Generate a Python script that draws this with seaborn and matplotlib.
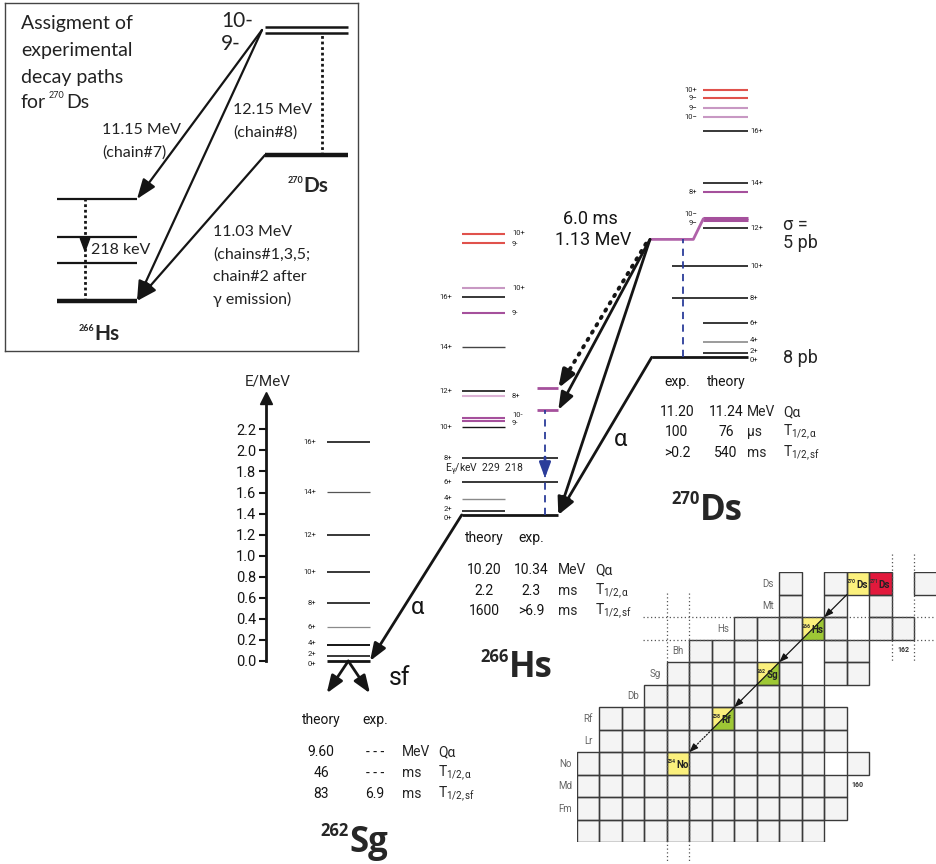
import numpy as np
import pandas as pd
import matplotlib.pyplot as plt
import seaborn as sns
from matplotlib.colors import ListedColormap
from matplotlib.patches import Rectangle, Polygon

sns.set_style('white')
plt.rcParams['font.family'] = ['Roboto', 'DejaVu Sans']
plt.rcParams['mathtext.fontset'] = 'custom'
plt.rcParams['mathtext.rm'] = 'Roboto'
plt.rcParams['mathtext.it'] = 'Roboto:italic'
plt.rcParams['mathtext.bf'] = 'Roboto:bold'

# ---------------- data (MeV) ----------------
band_spins = ['0+', '2+', '4+', '6+', '8+', '10+', '12+', '14+', '16+']
sg_energy = [0.0, 0.047, 0.155, 0.320, 0.554, 0.842, 1.197, 1.608, 2.083]
hs_energy = [0.0, 0.038, 0.149, 0.311, 0.544, 0.833, 1.180, 1.598, 2.067]
ds_energy = [0.0, 0.038, 0.148, 0.323, 0.560, 0.867, 1.231, 1.658, 2.152]

hs_k_spins = ['9-', '10-', '8+', '9-', '10+', '9-', '10+']
hs_k_energy = [0.890, 0.924, 1.130, 1.915, 2.159, 2.586, 2.666]
hs_exp_energy = [0.997, 1.203]

ds_k_spins = ['9-', '10-', '8+', '10-', '9-', '9-', '10+']
ds_k_energy = [1.304, 1.326, 1.573, 2.279, 2.370, 2.460, 2.538]
ds_isomer = 1.12

sg_table = [['9.60', '- - -', 'MeV', 'Qα'],
            ['46', '- - -', 'ms', r'$\mathregular{T_{1/2,α}}$'],
            ['83', '6.9', 'ms', r'$\mathregular{T_{1/2,sf}}$']]
hs_table = [['10.20', '10.34', 'MeV', 'Qα'],
            ['2.2', '2.3', 'ms', r'$\mathregular{T_{1/2,α}}$'],
            ['1600', '>6.9', 'ms', r'$\mathregular{T_{1/2,sf}}$']]
ds_table = [['11.20', '11.24', 'MeV', 'Qα'],
            ['100', '76', 'μs', r'$\mathregular{T_{1/2,α}}$'],
            ['>0.2', '540', 'ms', r'$\mathregular{T_{1/2,sf}}$']]

# inset (schematic units)
inset_hs = [0.0, 0.38, 0.64, 1.02]
inset_ds = [1.46, 2.68, 2.74]

# chart of nuclides: existing cells per Z
chart_cells = {
    110: [157, 159, 160, 161, 163],
    109: [157, 159, 161],
    108: [155, 156, 157, 158, 159, 161, 162],
    107: [153, 154, 155, 157, 159, 160],
    106: [152, 153, 154, 155, 156, 157, 159, 160],
    105: list(range(151, 159)),
    104: list(range(149, 160)),
    103: list(range(149, 160)),
    102: list(range(148, 159)) + [160],
    101: list(range(148, 160)),
    100: list(range(148, 160)),
    99: list(range(148, 159)),
}
element = {110: 'Ds', 109: 'Mt', 108: 'Hs', 107: 'Bh', 106: 'Sg', 105: 'Db',
           104: 'Rf', 103: 'Lr', 102: 'No', 101: 'Md', 100: 'Fm'}
chain_Z = [110, 110, 108, 106, 104, 102]
chain_A = [270, 271, 266, 262, 258, 254]
chain_kind = [1, 2, 1, 1, 1, 1]          # 1 yellow, 2 red
split_Z = [108, 106, 104]                # alpha+sf split cells

# ---------------- layout ----------------
W, H = 937, 864
PX_PER_MEV = 105.3
SG0_PX = 661
HS0, DS0 = 1.387, 2.884                  # drawing offsets of ground states
BLACK, GRAY = '#151515', '#8a8a8a'
PURPLE, LPURPLE, PINK, RED = '#a5509c', '#c898c3', '#dcb2d4', '#e0524c'
BLUE = '#2b3d9a'

fig = plt.figure(figsize=(W / 100, H / 100), dpi=100)
ax_px = fig.add_axes([0, 0, 1, 1])
ax_px.set_xlim(0, W)
ax_px.set_ylim(H, 0)
ax_px.axis('off')

ax = fig.add_axes([0, 0, 1, 1])
ax.set_xlim(0, W)
ax.set_ylim((SG0_PX - H) / PX_PER_MEV, SG0_PX / PX_PER_MEV)
ax.axis('off')


def arrow(a, start, end, lw=1.6, color=BLACK, ls='-', scale=14):
    a.annotate('', xy=end, xytext=start,
               arrowprops=dict(arrowstyle='-|>,head_length=0.75,head_width=0.28',
                               lw=lw, color=color, linestyle=ls, shrinkA=0,
                               shrinkB=0, mutation_scale=scale))


def dotted_arrow(a, start, end, lw=1.6, dots=(0, (1, 2)), scale=14, frac=0.9):
    # dotted shaft, solid head
    mid = (start[0] + frac * (end[0] - start[0]), start[1] + frac * (end[1] - start[1]))
    a.plot([start[0], mid[0]], [start[1], mid[1]], color=BLACK, lw=lw, ls=dots,
           dash_capstyle='round', clip_on=False)
    arrow(a, mid, end, lw=lw, scale=scale)


def label(x, e, s, ha, color='#222', dy=0.0):
    # dy: shift in pixels, positive = downwards
    ax.text(x, e - dy / PX_PER_MEV, s, ha=ha, va='center', fontsize=5.5, color=color)


# energy axis
ax_e = fig.add_axes([266 / W, (H - SG0_PX) / H, 0.004, 2.5 * PX_PER_MEV / H])
ax_e.set_ylim(0, 2.5)
ax_e.set_facecolor('none')
for s in ['top', 'right', 'bottom']:
    ax_e.spines[s].set_visible(False)
ax_e.spines['left'].set_linewidth(2)
ax_e.spines['left'].set_color(BLACK)
ax_e.set_xticks([])
ax_e.set_yticks(np.arange(0, 2.21, 0.2))
ax_e.set_yticklabels([f'{v:.1f}' for v in np.arange(0, 2.21, 0.2)])
ax_e.tick_params(axis='y', left=True, direction='out', length=5, width=1.5,
                 labelsize=10.5, pad=2, colors=BLACK)
ax_e.plot(0, 1, marker='^', ms=8, color=BLACK, transform=ax_e.transAxes, clip_on=False)
ax_px.text(268, 381, 'E/MeV', ha='center', va='center', fontsize=11)

band_dy = [3, -2, -1.5, 0, 0, 0, 0, 0, 0]

# ---- 262Sg ----
sg_lw = [2.0, 1.2, 1.4, 0.9, 1.2, 1.2, 1.2, 0.9, 1.2]
sg_col = [BLACK, BLACK, BLACK, GRAY, BLACK, BLACK, BLACK, '#555', BLACK]
ax.hlines(sg_energy, 326.7, 370, colors=sg_col, lw=sg_lw)
for s, e, d in zip(band_spins, sg_energy, band_dy):
    label(316, e, s, 'right', dy=d)

# ---- 266Hs ----
hs_x1 = [558.3, 505, 505, 558.3, 558.3, 505, 505, 505, 505]
hs_lw = [2.0, 1.2, 1.0, 1.2, 1.2, 1.0, 1.2, 1.0, 1.2]
hs_col = [BLACK, BLACK, GRAY, BLACK, BLACK, BLACK, BLACK, '#444', BLACK]
hs_e = HS0 + np.array(hs_energy)
ax.hlines(hs_e, 461.7, hs_x1, colors=hs_col, lw=hs_lw)
for s, e, d in zip(band_spins, hs_e, band_dy):
    label(452, e, s, 'right', dy=d)
hs_k_col = [PURPLE, PURPLE, PINK, PURPLE, LPURPLE, RED, RED]
hs_k_dy = [1.5, -3, 0, 0, 0, 1.5, -1.5]
hs_k_e = HS0 + np.array(hs_k_energy)
ax.hlines(hs_k_e, 461.7, 505, colors=hs_k_col, lw=1.5)
for s, e, d in zip(hs_k_spins, hs_k_e, hs_k_dy):
    label(512, e, s, 'left', dy=d)
hs_x = HS0 + np.array(hs_exp_energy)
ax.hlines(hs_x, 536.7, 558.3, colors=PURPLE, lw=2)
ax.vlines(545, HS0, hs_x[0], colors=BLUE, linestyles=(0, (4, 3)), lw=1.3)
arrow(ax, (545, (SG0_PX - 457) / PX_PER_MEV), (545, (SG0_PX - 478) / PX_PER_MEV),
      lw=2, color=BLUE, scale=12)

# ---- 270Ds ----
ds_x0 = [651.7, 703.3, 703.3, 703.3, 671.7, 671.7, 703.3, 703.3, 703.3]
ds_lw = [2.0, 1.2, 1.2, 1.2, 1.2, 1.2, 1.2, 1.2, 1.2]
ds_col = [BLACK, BLACK, GRAY, BLACK, BLACK, BLACK, BLACK, BLACK, BLACK]
ds_e = DS0 + np.array(ds_energy)
ax.hlines(ds_e, ds_x0, 748.3, colors=ds_col, lw=ds_lw)
for s, e, d in zip(band_spins, ds_e, band_dy):
    label(750, e, s, 'left', dy=d)
ds_k_col = [PURPLE, PURPLE, PURPLE, LPURPLE, LPURPLE, RED, RED]
ds_k_lw = [2.2, 2.2, 1.5, 1.5, 1.5, 1.5, 1.5]
ds_k_dy = [3, -3.5, 0, 0, 0, 0, 0]
ds_k_e = DS0 + np.array(ds_k_energy)
ax.hlines(ds_k_e, 703.3, 748.3, colors=ds_k_col, lw=ds_k_lw)
for s, e, d in zip(ds_k_spins, ds_k_e, ds_k_dy):
    label(697, e, s.replace('-', '−'), 'right', dy=d)
iso = DS0 + ds_isomer
ax.plot([651.7, 693.3, 703.3], [iso, iso, DS0 + np.mean(ds_k_energy[:2])],
        color='#b062a9', lw=2, solid_joinstyle='round')
ax.vlines(682.7, DS0, iso, colors=BLUE, linestyles=(0, (4, 3)), lw=1.3)

# ---- decay arrows ----
arrow(ax, (461.7, HS0), (370, 0.0), lw=2)
arrow(ax, (651.7, DS0), (558.3, HS0), lw=2)
arrow(ax, (650, iso), (558.3, HS0), lw=2)
arrow(ax, (650, iso), (558.3, hs_x[0]), lw=2)
dotted_arrow(ax, (646, iso - 0.04), (558.3, hs_x[1]), lw=2.8, dots=(0, (0.4, 1.8)))
sf_tip = (SG0_PX - 693.3) / PX_PER_MEV
arrow(ax, (348.3, 0.0), (326.7, sf_tip), lw=2)
arrow(ax, (348.3, 0.0), (370, sf_tip), lw=2)

# ---- texts of the main scheme ----
T = dict(ha='center', va='center', color=BLACK)
ax_px.text(418, 608, 'α', fontsize=17, **T)
ax_px.text(621, 440, 'α', fontsize=17, **T)
ax_px.text(400, 678, 'sf', fontsize=18, **T)
ax_px.text(590, 219, '6.0 ms', fontsize=13, **T)
ax_px.text(593, 240, '1.13 MeV', fontsize=13, **T)
ax_px.text(783, 225, 'σ =', fontsize=13, ha='left', va='center')
ax_px.text(783, 243, '5 pb', fontsize=13, ha='left', va='center')
ax_px.text(783, 358, '8 pb', fontsize=13, ha='left', va='center')
ax_px.text(445, 470, r'$\mathregular{E_γ}$/keV  229  218', fontsize=7.5,
           ha='left', va='center')


def table(rows, head, y_head, ys, xc1, xc2, xu, xq):
    ax_px.text(xc1, y_head, head[0], fontsize=10, **T)
    ax_px.text(xc2, y_head, head[1], fontsize=10, **T)
    for r, y in zip(rows, ys):
        ax_px.text(xc1, y, r[0], fontsize=10, **T)
        ax_px.text(xc2, y, r[1], fontsize=10, **T)
        ax_px.text(xu, y, r[2], fontsize=10, ha='left', va='center')
        ax_px.text(xq, y, r[3], fontsize=10, ha='left', va='center')


table(sg_table, ['theory', 'exp.'], 720, [752, 773, 794], 321, 375, 402, 438)
table(hs_table, ['theory', 'exp.'], 538, [570, 591, 611], 484, 531, 558, 595)
table(ds_table, ['exp.', 'theory'], 382, [412, 432, 453], 677, 726, 747, 783)


def nuclide(a, x, y, mass, sym, big, small, family='Open Sans'):
    a.text(x, y, sym, fontsize=big, fontweight='bold', ha='left', va='baseline',
           family=family)
    a.text(x, y - big * 0.62, mass, fontsize=small, fontweight='bold', ha='right',
           va='baseline', family=family)


nuclide(ax_px, 509, 677, '266', 'Hs', 25, 12)
nuclide(ax_px, 700, 520, '270', 'Ds', 25, 12)
nuclide(ax_px, 349, 852, '262', 'Sg', 25, 12)

# ---------------- inset ----------------
ax_in = fig.add_axes([5 / W, (H - 351) / H, 353 / W, 348 / H])
ax_in.set_xlim(5, 358)
ax_in.set_ylim(-0.5, 2.98)
ax_in.set_facecolor('none')
ax_in.set_xticks([])
ax_in.set_yticks([])
for s in ax_in.spines.values():
    s.set_visible(True)
    s.set_color('#444')
    s.set_linewidth(1)
ax_in.hlines(inset_hs, 57, 137, colors=BLACK, lw=[3.2, 1.6, 1.6, 1.6])
ax_in.hlines(inset_ds, 265, 348, colors=BLACK, lw=[3.2, 1.8, 1.8])
ax_in.vlines(85, inset_hs[0], inset_hs[-1], colors=BLACK, lw=2, linestyles=(0, (1, 1)))
arrow(ax_in, (85, 0.62), (85, 0.48), lw=1, scale=12)
ax_in.vlines(322, inset_ds[0], inset_ds[1], colors=BLACK, lw=2, linestyles=(0, (1, 1)))
top = np.mean(inset_ds[1:])
arrow(ax_in, (262, top), (137, inset_hs[-1]), lw=1.6, scale=16)
arrow(ax_in, (262, top), (137, inset_hs[0]), lw=1.6, scale=16)
arrow(ax_in, (265, inset_ds[0]), (137, inset_hs[0]), lw=1.6, scale=16)

LF = dict(family=['Lato', 'DejaVu Sans'], ha='left', va='center', color='#222')
for i, s in enumerate(['Assigment of', 'experimental', 'decay paths']):
    ax_px.text(21, 24 + 26.5 * i, s, fontsize=14, **LF)
ax_px.text(21, 103, 'for', fontsize=14, **LF)
ax_px.text(49, 96, '270', fontsize=6.5, **LF)
ax_px.text(66, 103, 'Ds', fontsize=14, **LF)
ax_px.text(221, 21, '10-', fontsize=15, **LF)
ax_px.text(221, 44, '9-', fontsize=15, **LF)
ax_px.text(233, 110, '12.15 MeV', fontsize=11.5, **LF)
ax_px.text(233, 133, '(chain#8)', fontsize=11.5, **LF)
ax_px.text(102, 130, '11.15 MeV', fontsize=11.5, **LF)
ax_px.text(102, 153, '(chain#7)', fontsize=11.5, **LF)
for i, s in enumerate(['11.03 MeV', '(chains#1,3,5;', 'chain#2 after', 'γ emission)']):
    ax_px.text(213, 232 + 22.5 * i, s, fontsize=11.5, **LF)
ax_px.text(91, 250, '218 keV', fontsize=11.5, **LF)
nuclide(ax_px, 303, 192, '270', 'Ds', 15, 6.5, family='Lato')
nuclide(ax_px, 94, 340, '266', 'Hs', 15, 6.5, family='Lato')

# ---------------- chart of nuclides ----------------
N_vals = list(range(148, 164))
Z_vals = list(range(110, 98, -1))
grid = pd.DataFrame(np.nan, index=Z_vals, columns=N_vals)
for z, ns in chart_cells.items():
    grid.loc[z, ns] = 0
for z, a, k in zip(chain_Z, chain_A, chain_kind):
    grid.loc[z, a - z] = k

ax_c = fig.add_axes([576.7 / W, (H - 842.3) / H, 360 / W, 270 / H])
sns.heatmap(grid, ax=ax_c, cmap=ListedColormap(['#f4f4f4', '#fbf07d', '#e2193c']),
            vmin=-0.5, vmax=2.5, cbar=False, linewidths=0,
            xticklabels=False, yticklabels=False)
ax_c.set_facecolor('none')
ax_c.set_xlabel('')
ax_c.set_ylabel('')


def cell(z, n):
    return n - N_vals[0], Z_vals.index(z)


for z, a in zip(chain_Z, chain_A):
    if z in split_Z:
        c, r = cell(z, a - z)
        ax_c.add_patch(Polygon([(c + 1, r), (c + 1, r + 1), (c, r + 1)],
                               closed=True, facecolor='#9ec835', edgecolor='none'))

# cell borders only where a cell exists
for z, ns in chart_cells.items():
    for n in ns:
        c, r = cell(z, n)
        ax_c.add_patch(Rectangle((c, r), 1, 1, fill=False, edgecolor='#3a3a3a', lw=1.0))

for z, a in zip(chain_Z, chain_A):
    c, r = cell(z, a - z)
    ax_c.text(c + 0.42, r + 0.55, element[z], fontsize=7, fontweight='bold',
              ha='left', va='center', color='#222')
    ax_c.text(c + 0.42, r + 0.42, str(a), fontsize=3.8, fontweight='bold',
              ha='right', va='center', color='#333')

for z, ns in chart_cells.items():
    if z in element:
        c, r = cell(z, min(ns))
        if z == 109:
            c = cell(110, min(chart_cells[110]))[0]
        ax_c.text(c - 0.5, r + 0.5, element[z], fontsize=7, color='#666',
                  ha='center', va='center')

# decay chain arrows on the chart
path = [cell(z, a - z) for z, a in zip(chain_Z, chain_A) if a != 271]
for i, ((c0, r0), (c1, r1)) in enumerate(zip(path[:-1], path[1:])):
    if i > 0:
        ax_c.plot([c0 + 1, c0], [r0, r0 + 1], color=BLACK, lw=0.9)
    if i == len(path) - 2:
        dotted_arrow(ax_c, (c0, r0 + 1), (c1 + 1, r1), lw=0.9, dots=(0, (1, 1.5)),
                     scale=7, frac=0.75)
    else:
        arrow(ax_c, (c0, r0 + 1), (c1 + 1, r1), lw=0.9, scale=7)

dot = dict(color='#555', lw=0.9, ls=(0, (1, 2)), clip_on=False)
for y in (2, 3):
    ax_c.plot([2.95, 16], [y, y], **dot)
for x in (4, 5):
    ax_c.plot([x, x], [0.92, 12.9], **dot)
for x in (14, 15):
    ax_c.plot([x, x], [-0.8, 3.95], **dot)
ax_c.text(14.5, 3.45, '162', fontsize=5, fontweight='bold', ha='center', va='center', color='#333')
ax_c.text(12.5, 9.45, '160', fontsize=5, fontweight='bold', ha='center', va='center', color='#333')

fig.savefig('out.png', dpi=100, facecolor='white')
